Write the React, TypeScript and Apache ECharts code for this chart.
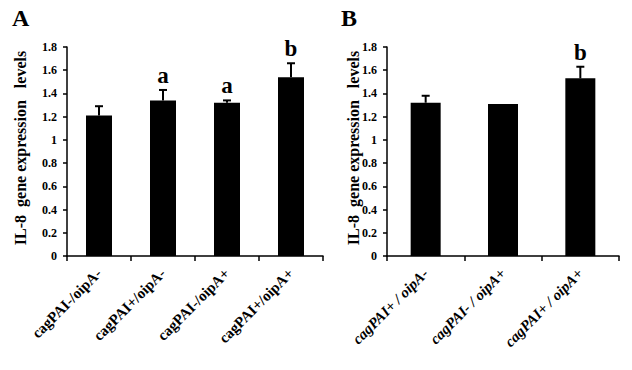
import React, { useEffect, useRef } from "react";
import * as echarts from "echarts";

const catsA = ["cagPAI-/oipA-", "cagPAI+/oipA-", "cagPAI-/oipA+", "cagPAI+/oipA+"];
const meansA = [1.21, 1.34, 1.32, 1.54];
const errsA = [0.08, 0.09, 0.02, 0.12];
const lettersA = ["", "a", "a", "b"];

const catsB = ["cagPAI+ / oipA-", "cagPAI- / oipA+", "cagPAI+ / oipA+"];
const meansB = [1.32, 1.31, 1.53];
const errsB = [0.06, 0, 0.1];
const lettersB = ["", "", "b"];

const yTitle = "IL-8  gene expression   levels";
const serif = "'Liberation Serif', 'Times New Roman', serif";

function errSeries(xi: number, means: number[], errs: number[], letters: string[]) {
  return {
    type: "custom",
    xAxisIndex: xi,
    yAxisIndex: xi,
    z: 5,
    data: means.map((m, i) => [i, m, errs[i]]),
    renderItem: (params: any, api: any) => {
      const i = api.value(0);
      const m = api.value(1);
      const e = api.value(2);
      const p0 = api.coord([i, m]);
      const p1 = api.coord([i, m + e]);
      const children: any[] = [];
      if (e > 0) {
        children.push({
          type: "line",
          shape: { x1: p0[0], y1: p0[1], x2: p1[0], y2: p1[1] },
          style: { stroke: "#000", lineWidth: 2 },
        });
        children.push({
          type: "line",
          shape: { x1: p1[0] - 4, y1: p1[1], x2: p1[0] + 4, y2: p1[1] },
          style: { stroke: "#000", lineWidth: 2 },
        });
      }
      const letter = letters[params.dataIndex];
      if (letter) {
        children.push({
          type: "text",
          x: p1[0],
          y: p1[1] - 3,
          style: {
            text: letter,
            fill: "#000",
            font: `bold 23px ${serif}`,
            textAlign: "center",
            textVerticalAlign: "bottom",
          },
        });
      }
      return { type: "group", children };
    },
  };
}

function yAxis(gi: number) {
  return {
    type: "value",
    gridIndex: gi,
    min: 0,
    max: 1.8,
    interval: 0.2,
    splitLine: { show: false },
    axisLine: { show: true, lineStyle: { color: "#000", width: 1.5 } },
    axisTick: { show: true, length: 4, lineStyle: { color: "#000", width: 1.5 } },
    axisLabel: {
      color: "#000",
      fontFamily: serif,
      fontWeight: "bold",
      fontSize: 12,
      margin: 10,
      formatter: (v: number) => String(Math.round(v * 10) / 10),
    },
  };
}

function xAxis(gi: number, cats: string[], italic: boolean) {
  return {
    type: "category",
    gridIndex: gi,
    data: cats,
    axisLine: { show: true, lineStyle: { color: "#000", width: 1.5 } },
    axisTick: { show: true, length: 5, alignWithLabel: false, lineStyle: { color: "#000", width: 1.5 } },
    axisLabel: {
      color: "#000",
      fontFamily: serif,
      fontWeight: "bold",
      fontStyle: italic ? "italic" : "normal",
      fontSize: 15,
      rotate: 45,
      margin: 15,
      interval: 0,
    },
  };
}

export default function App() {
  const ref = useRef<HTMLDivElement>(null);
  useEffect(() => {
    const chart = echarts.init(ref.current!, null, { renderer: "svg" });
    chart.setOption({
      animation: false,
      backgroundColor: "#fff",
      grid: [
        { left: 67, top: 47, width: 256, height: 209 },
        { left: 387, top: 47, width: 232, height: 209 },
      ],
      xAxis: [xAxis(0, catsA, false), xAxis(1, catsB, true)],
      yAxis: [yAxis(0), yAxis(1)],
      series: [
        {
          type: "bar",
          xAxisIndex: 0,
          yAxisIndex: 0,
          data: meansA,
          barWidth: 26,
          itemStyle: { color: "#000" },
        },
        errSeries(0, meansA, errsA, lettersA),
        {
          type: "bar",
          xAxisIndex: 1,
          yAxisIndex: 1,
          data: meansB,
          barWidth: 30,
          itemStyle: { color: "#000" },
        },
        errSeries(1, meansB, errsB, lettersB),
      ],
      graphic: [
        {
          type: "text",
          left: 12,
          top: 6,
          style: { text: "A", fill: "#000", font: `bold 24px ${serif}` },
        },
        {
          type: "text",
          left: 341,
          top: 6,
          style: { text: "B", fill: "#000", font: `bold 24px ${serif}` },
        },
        {
          type: "text",
          x: 20,
          y: 148,
          rotation: Math.PI / 2,
          style: {
            text: yTitle,
            fill: "#000",
            font: `bold 16px ${serif}`,
            textAlign: "center",
            textVerticalAlign: "middle",
          },
        },
        {
          type: "text",
          x: 353,
          y: 148,
          rotation: Math.PI / 2,
          style: {
            text: yTitle,
            fill: "#000",
            font: `bold 16px ${serif}`,
            textAlign: "center",
            textVerticalAlign: "middle",
          },
        },
      ],
    });
    return () => chart.dispose();
  }, []);
  return (
    <div
      ref={ref}
      style={{ position: "fixed", left: 0, top: 0, width: 632, height: 370, background: "#fff" }}
    />
  );
}
